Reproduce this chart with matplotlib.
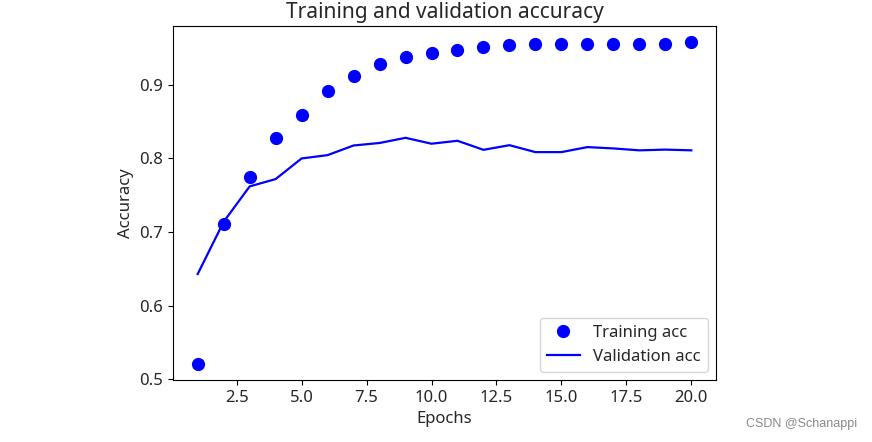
import matplotlib
matplotlib.use("Agg")
import matplotlib.pyplot as plt

plt.rcParams['font.family'] = ['Noto Sans', 'DejaVu Sans']

epochs = list(range(1, 21))
train_acc = [0.521, 0.711, 0.775, 0.828, 0.8585, 0.892, 0.912, 0.928, 0.938, 0.943,
             0.947, 0.952, 0.954, 0.956, 0.956, 0.956, 0.956, 0.956, 0.956, 0.958]
val_acc = [0.643, 0.714, 0.762, 0.772, 0.800, 0.8045, 0.8176, 0.821, 0.828, 0.820,
           0.824, 0.8117, 0.818, 0.8086, 0.8086, 0.8154, 0.8136, 0.811, 0.812, 0.811]

fig = plt.figure(figsize=(8.72, 4.42), dpi=100)
ax = fig.add_axes([173/872, 62/442, (716-173)/872, (380-26)/442])
ax.plot(epochs, train_acc, 'bo', markersize=8.5, label='Training acc')
ax.plot(epochs, val_acc, 'b', linewidth=1.6, label='Validation acc')
ax.set_title('Training and validation accuracy', fontsize=15, color='#262626')
ax.set_xlabel('Epochs', fontsize=12, color='#262626')
ax.set_ylabel('Accuracy', fontsize=12, color='#262626')
ax.tick_params(labelsize=12, labelcolor='#262626')
ax.legend(loc='lower right', fontsize=12, labelcolor='#262626')
fig.text(857/872, 1 - 424/442, 'CSDN @Schanappi', ha='right', va='center',
         fontsize=9, color='#8a8a8a', family='Liberation Sans')
fig.savefig('out.png', dpi=100)
